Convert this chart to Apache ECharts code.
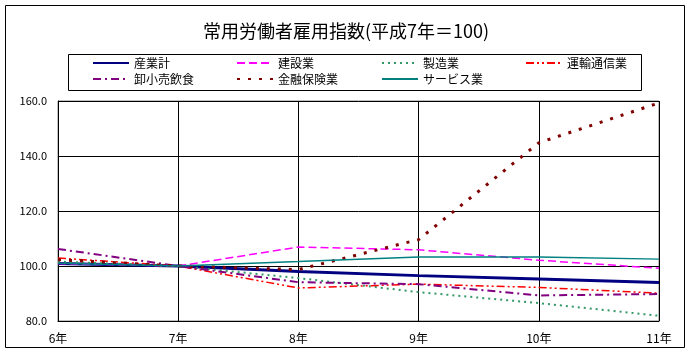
<!DOCTYPE html>
<html><head><meta charset="utf-8">
<script src="https://cdn.jsdelivr.net/npm/echarts@6/dist/echarts.min.js"></script>
<style>html,body{margin:0;padding:0;background:#fff}#c{width:692px;height:355px}</style>
</head><body><div id="c"></div>
<script>
var years = ['6年','7年','8年','9年','10年','11年'];
var yTicks = [80, 100, 120, 140, 160];
var sangyo   = [100.9, 100.0, 98.0, 96.5, 95.3, 94.0];
var kensetsu = [100.9, 100.0, 106.9, 105.9, 102.1, 99.2];
var seizo    = [101.6, 100.0, 95.6, 90.5, 86.5, 81.9];
var unyu     = [102.9, 100.0, 92.0, 93.4, 92.2, 90.1];
var oroshi   = [106.2, 100.0, 94.1, 93.4, 89.3, 89.8];
var kinyu    = [102.3, 100.0, 98.7, 109.6, 144.8, 159.3];
var service  = [101.0, 100.0, 101.6, 103.3, 103.3, 102.5];
var names = ['産業計','建設業','製造業','運輸通信業','卸小売飲食','金融保険業','サービス業'];

var FONT = '"Noto Sans CJK JP", sans-serif';
var styles = [
  {color:'#000080', width:3, type:'solid'},
  {color:'#FF00FF', width:1.5, type:[8,4]},
  {color:'#339966', width:2, type:[2,4]},
  {color:'#FF0000', width:1.5, type:[8,3,2,3,2,3]},
  {color:'#800080', width:2, type:[8,4,2,4]},
  {color:'#800000', width:3, type:[3,8]},
  {color:'#008080', width:1.5, type:'solid'}
];
var datas = [sangyo, kensetsu, seizo, unyu, oroshi, kinyu, service];

var legendPos = [[92,57],[236,57],[381,57],[525,57],[92,73],[236,73],[381,73]];
var legends = names.map(function(n,i){
  return {data:[n], left:legendPos[i][0], top:legendPos[i][1], itemWidth:36, itemHeight:14,
    padding:0, itemGap:0, selectedMode:false,
    itemStyle:{opacity:0},
    lineStyle:{opacity:1},
    textStyle:{fontFamily:FONT, fontSize:12, color:'#000'}};
});

var series = names.map(function(n,i){
  return {name:n, type:'line', data:datas[i], symbol:'none', showSymbol:false,
    lineStyle:{color:styles[i].color, width:styles[i].width, type:styles[i].type, cap:'butt'},
    itemStyle:{color:styles[i].color}, animation:false, z:2+i};
});

var chart = echarts.init(document.getElementById('c'), null, {renderer:'canvas'});
chart.setOption({
  animation:false,
  backgroundColor:'#fff',
  title:{text:'常用労働者雇用指数(平成7年＝100)', left:'center', top:17,
    textStyle:{fontFamily:FONT, fontSize:18, fontWeight:'normal', color:'#000'}},
  legend:legends,
  graphic:[
    {type:'rect', shape:{x:5.5, y:5.5, width:679, height:342}, style:{fill:null, stroke:'#000', lineWidth:1}, silent:true, z:-1},
    {type:'rect', shape:{x:68.5, y:54.5, width:573, height:36}, style:{fill:null, stroke:'#000', lineWidth:1}, silent:true, z:-1}
  ],
  grid:{left:58, top:101, width:601, height:220, show:true, borderColor:'#808080', borderWidth:1, backgroundColor:'transparent'},
  xAxis:{type:'category', data:years, boundaryGap:false,
    axisLine:{lineStyle:{color:'#000', width:1}}, axisTick:{show:false},
    axisLabel:{fontFamily:FONT, fontSize:12, color:'#000', margin:11},
    splitLine:{show:true, lineStyle:{color:'#000', width:1}}},
  yAxis:{type:'value', min:yTicks[0], max:yTicks[yTicks.length-1], interval:20,
    axisLine:{show:true, lineStyle:{color:'#000', width:1}}, axisTick:{show:false},
    axisLabel:{fontFamily:FONT, fontSize:11, color:'#000', margin:11, formatter:function(v){return v.toFixed(1);}},
    splitLine:{show:true, lineStyle:{color:'#000', width:1}}},
  series:series
});
</script></body></html>
